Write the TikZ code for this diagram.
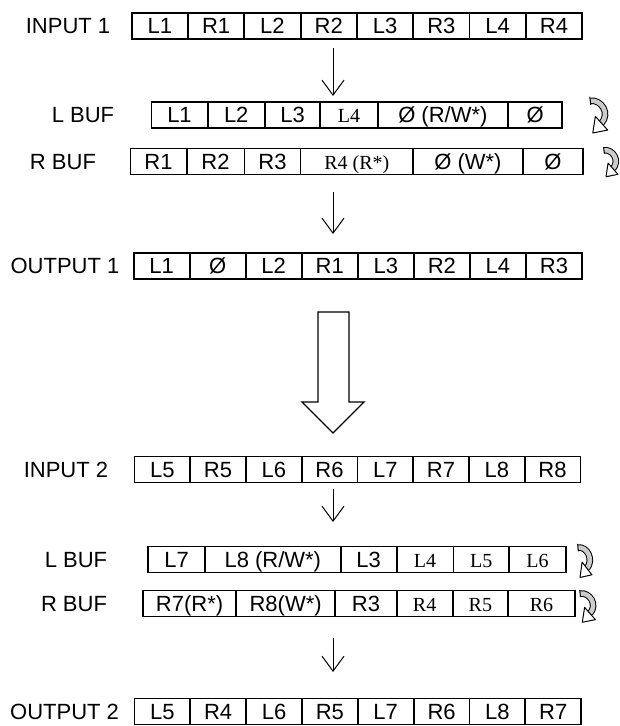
\documentclass[tikz,border=0pt]{standalone}
\usepackage{fontspec}
\setmainfont{Liberation Sans}
\newfontfamily\tms{Liberation Serif}
\usetikzlibrary{arrows.meta}

% serif entries inside the buffers
\newcommand\sr[1]{{\tms\fontsize{20}{20}\selectfont #1}}

% a row of cells: #1 name prefix, #2 y centre, #3 list x0/x1/text
\newcommand\cellrow[3]{%
  \foreach \xa/\xb/\txt [count=\k] in {#3}
    \node[cell, minimum width={(\xb-\xa)*1pt}] (#1-\k) at ({(\xa+\xb)/2},#2) {\txt};
}

\tikzset{
  cell/.style={draw, line width=1.8pt, minimum height=26pt, inner sep=0pt,
               text height=15.5pt, text depth=0pt,
               font=\fontsize{22}{22}\selectfont},
  lbl/.style={inner sep=0pt, text height=15.5pt, text depth=0pt,
              font=\fontsize{22}{22}\selectfont},
  flow/.style={line width=1pt, -{Straight Barb[length=15pt,width=22pt]}},
  bigarrow/.style={draw, line width=1.4pt, fill=white},
  turn/.pic={
    \draw[line width=1pt, double=gray!40, double distance=4.5pt]
      (1,2) .. controls (10,1) and (17,11) .. (10,18);
    \draw[line width=1pt] (0.55,-0.9) -- (1.45,4.9);
    \filldraw[fill=white, line width=1pt, line join=round]
      (14.9,22.9) -- (3.0,25.0) -- (5.1,13.1) -- cycle;
  }
}

\begin{document}
\begin{tikzpicture}[x=1pt,y=-1pt]
\useasboundingbox (0,0) rectangle (620,726);

% ---- first pass ----
\node[lbl] (lin1) at (68,26) {INPUT 1};
\cellrow{in1}{26}{131.7/188/L1, 188/244.3/R1, 244.3/300.6/L2, 300.6/356.9/R2,
  356.9/413.2/L3, 413.2/469.5/R3, 469.5/525.8/L4, 525.8/582.1/R4}

\node[lbl] (llb1) at (83,115) {L BUF};
\cellrow{lb1}{115}{151.4/207.6/L1, 207.6/264.9/L2, 264.9/320.3/L3,
  320.3/377.6/\sr{L4}, 377.6/508.1/{Ø (R/W*)}, 508.1/562.3/Ø}

\node[lbl] (lrb1) at (63,161.5) {R BUF};
\cellrow{rb1}{161.5}{130.5/186.6/R1, 186.6/244.4/R2, 244.4/300.5/R3,
  300.5/413.2/\sr{R4 (R*)}, 413.2/522.7/{Ø (W*)}, 522.7/583.2/Ø}

\node[lbl] (lout1) at (65,266) {OUTPUT 1};
\cellrow{out1}{266}{133.6/189.65/L1, 189.65/245.7/Ø, 245.7/301.75/L2,
  301.75/357.8/R1, 357.8/413.85/L3, 413.85/469.9/R2, 469.9/525.95/L4, 525.95/582/R3}

\coordinate (a1s) at (333,48);  \coordinate (a1e) at (333,96);
\coordinate (a2s) at (333,192); \coordinate (a2e) at (333,234);
\draw[flow] (a1s) -- (a1e);
\draw[flow] (a2s) -- (a2e);

\pic[xscale=1.25,yscale=1.4] at (589,98) {turn};
\pic[xscale=1,yscale=1.15] at (603,148) {turn};

% ---- transition to the second pass ----
\draw[bigarrow] (318,312) -- (349,312) -- (349,402) -- (364,402) -- (333,433)
  -- (302,402) -- (318,402) -- cycle;

% ---- second pass ----
\node[lbl] (lin2) at (66,469.5) {INPUT 2};
\cellrow{in2}{469.5}{134.4/190.15/L5, 190.15/245.9/R5, 245.9/301.65/L6,
  301.65/357.4/R6, 357.4/413.15/L7, 413.15/468.9/R7, 468.9/524.65/L8, 524.65/580.4/R8}

\node[lbl] (llb2) at (76,559.5) {L BUF};
\cellrow{lb2}{559.5}{148.3/204.8/L7, 204.8/340.8/{L8 (R/W*)}, 340.8/396.6/L3,
  396.6/453.5/\sr{L4}, 453.5/508.9/\sr{L5}, 508.9/566/\sr{L6}}

\node[lbl] (lrb2) at (74,603.5) {R BUF};
\cellrow{rb2}{603.5}{143.1/236/{R7(R*)}, 236/335.3/{R8(W*)}, 335.3/396.6/R3,
  396.6/452.7/\sr{R4}, 452.7/508.1/\sr{R5}, 508.1/575/\sr{R6}}

\node[lbl] (lout2) at (64.6,711.5) {OUTPUT 2};
\cellrow{out2}{711.5}{134.4/190.25/L5, 190.25/246.1/R4, 246.1/301.95/L6,
  301.95/357.8/R5, 357.8/413.65/L7, 413.65/469.5/R6, 469.5/525.35/L8, 525.35/581.2/R7}

\coordinate (a3s) at (333,489); \coordinate (a3e) at (333,522);
\coordinate (a4s) at (333,638); \coordinate (a4e) at (333,672);
\draw[flow] (a3s) -- (a3e);
\draw[flow] (a4s) -- (a4e);

\pic[xscale=1,yscale=1.3] at (577,545) {turn};
\pic[xscale=1.1,yscale=1.25] at (579,591) {turn};
\end{tikzpicture}
\end{document}
